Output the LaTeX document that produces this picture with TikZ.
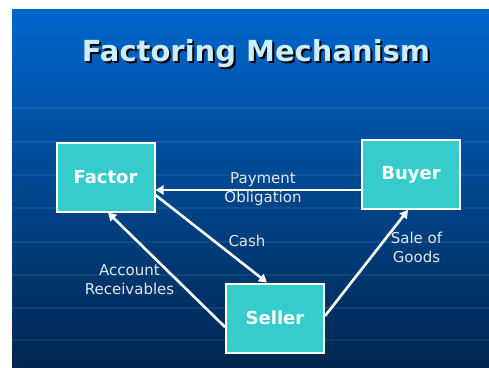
\documentclass[tikz,border=0pt]{standalone}
\usepackage{fontspec}
\setmainfont{DejaVu Sans}
\usetikzlibrary{arrows.meta}

\definecolor{slidetop}{HTML}{0066CC}
\definecolor{slidebottom}{HTML}{00264F}
\definecolor{boxfill}{HTML}{36CCCC}
\definecolor{titleblue}{HTML}{CCEEFF}
\definecolor{labelgray}{HTML}{E6E6E6}

% title text with a dark drop shadow behind it
\newcommand{\shadowtext}[1]{%
  \makebox[0pt][l]{\hspace{2pt}\raisebox{-2pt}{\textcolor{black}{#1}}}\textcolor{titleblue}{#1}}

\begin{document}
\begin{tikzpicture}[
    x=1pt, y=-1pt,
    % Define styles
    party/.style={rectangle, draw=white, line width=2pt, fill=boxfill, minimum width=98pt, minimum height=69pt, text=white, font=\fontsize{18}{21}\selectfont\bfseries},
    flowlabel/.style={text=labelgray, align=center, font=\fontsize{15}{19}\selectfont},
    flow/.style={draw=white, line width=2.6pt, -{Triangle[length=8pt,width=9pt]}},
    gridline/.style={draw=white, opacity=0.07, line width=1.2pt}
]

\useasboundingbox (0,0) rectangle (489,367);

% Slide background
\shade[top color=slidetop, bottom color=slidebottom] (12,9) rectangle (489,367);
\foreach \y in {108,142,175,208,242,275,308,340}
    \draw[gridline] (12,\y) -- (489,\y);

% Title
\node[font=\fontsize{29}{33}\selectfont\bfseries] (title) at (256,55) {\shadowtext{Factoring Mechanism}};

% Parties
\node[party] (factor) at (105.5,177) {Factor};
\node[party] (buyer) at (411,174.5) {Buyer};
\node[party] (seller) at (275,318) {Seller};

% Flows between the parties
\draw[flow] ([yshift=-15.5pt]buyer.west) -- ([yshift=-15.5pt]buyer.west -| factor.east);
\draw[flow] ([yshift=-18pt]factor.east) -- ([xshift=-8pt]seller.north);
\draw[flow] ([yshift=-9pt]seller.west) -- ([xshift=2.5pt]factor.south);
\draw[flow] ([yshift=2pt]seller.east) -- ([xshift=-3pt]buyer.south);

% Flow labels
\node[flowlabel] (payment_label) at (263,189) {Payment\\Obligation};
\node[flowlabel] (cash_label) at (247,241) {Cash};
\node[flowlabel] (receivables_label) at (129.5,280) {Account\\Receivables};
\node[flowlabel] (goods_label) at (416.5,247) {Sale of\\Goods};

\end{tikzpicture}
\end{document}
